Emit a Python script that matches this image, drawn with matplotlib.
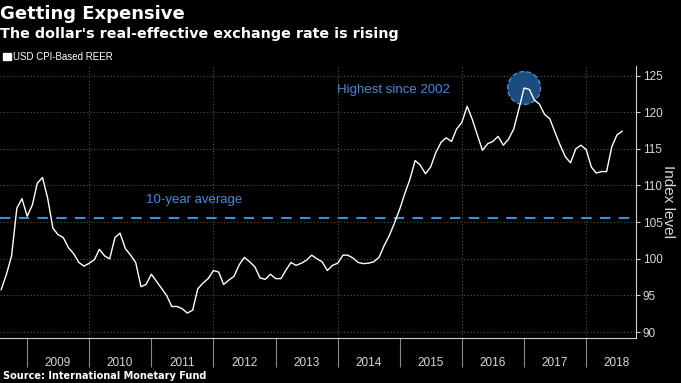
import numpy as np
import pandas as pd
import matplotlib
matplotlib.use('Agg')
import matplotlib.pyplot as plt
from matplotlib.patches import Patch

# monthly USD CPI-based REER, Aug 2008 - Aug 2018
months = pd.date_range('2008-08-01', '2018-08-01', freq='MS')
reer = [95.8, 97.9, 100.4, 106.9, 108.2,
        105.8, 107.4, 110.3, 111.1, 108.3, 104.2, 103.3, 102.9, 101.5, 100.7, 99.5, 99.0,
        99.4, 99.9, 101.3, 100.4, 100.0, 102.9, 103.5, 101.4, 100.5, 99.5, 96.2, 96.5,
        97.9, 96.9, 96.0, 95.0, 93.5, 93.5, 93.2, 92.6, 93.0, 95.9, 96.7, 97.3,
        98.4, 98.2, 96.5, 97.1, 97.6, 99.2, 100.2, 99.6, 98.9, 97.4, 97.2, 97.9,
        97.3, 97.3, 98.4, 99.5, 99.1, 99.4, 99.8, 100.5, 100.0, 99.6, 98.4, 99.1,
        99.4, 100.5, 100.5, 100.1, 99.5, 99.35, 99.4, 99.6, 100.2, 101.8, 103.2, 104.9,
        106.8, 109.0, 110.8, 113.4, 112.8, 111.6, 112.5, 114.5, 115.9, 116.5, 116.0, 117.7,
        118.6, 120.8, 119.1, 116.9, 114.8, 115.7, 116.0, 116.7, 115.5, 116.3, 117.7, 120.4,
        123.3, 123.1, 121.7, 121.1, 119.7, 119.1, 117.3, 115.5, 113.9, 113.1, 115.0, 115.5,
        114.9, 112.5, 111.7, 111.9, 111.9, 115.3, 116.9, 117.4]
avg_10y = 105.6
years = list(range(2009, 2019))
grid_years = [2010, 2012, 2014, 2016, 2018]
yticks = [90, 95, 100, 105, 110, 115, 120, 125]

narrow = ['Liberation Sans Narrow', 'Liberation Sans', 'DejaVu Sans']
blue = '#3a8ee0'
grid_c = '#555555'
lbl_c = '#d8d8d8'

fig = plt.figure(figsize=(6.81, 3.83), dpi=100, facecolor='black')
ax = fig.add_axes([0.0, 0.1175, 0.9339, 0.7102], facecolor='black')

# grid
for y in yticks:
    ax.axhline(y, color=grid_c, lw=0.8, ls=(0, (1, 2)), zorder=1)
for yr in grid_years:
    ax.axvline(pd.Timestamp(yr, 1, 1), color=grid_c, lw=0.8, ls=(0, (1, 2)), zorder=1)

ax.axhline(avg_10y, color=blue, lw=1.5, ls=(0, (5, 4)), zorder=2)
ax.plot(months, reer, color='white', lw=1.0, zorder=3)

# highlight the peak
i = int(np.argmax(reer))
ax.scatter([months[i]], [reer[i]], s=560, facecolor='#1c4c7e', edgecolor=blue,
           linestyle='--', linewidth=1.0, zorder=2.5)

ax.text(pd.Timestamp(2010, 12, 1), 108.05, '10-year average', color=blue,
        fontsize=9.5, family=narrow, va='center', ha='left')
ax.text(pd.Timestamp(2013, 12, 25), 123.0, 'Highest since 2002', color=blue,
        fontsize=9.5, family=narrow, va='center', ha='left')

ax.set_xlim(pd.Timestamp(2008, 7, 25), pd.Timestamp(2018, 10, 21))
ax.set_ylim(89.2, 126.3)

# x axis: year boundaries as long ticks, labels mid-year
ax.set_xticks([pd.Timestamp(y, 1, 1) for y in years])
ax.set_xticklabels([])
ax.set_xticks([pd.Timestamp(y, 7, 1) for y in years], minor=True)
ax.set_xticklabels([str(y) for y in years], minor=True, family=narrow,
                   fontsize=8.5, color=lbl_c)
ax.tick_params(axis='x', which='major', length=21, color='#8a8a8a', width=0.8)
ax.tick_params(axis='x', which='minor', length=0, pad=14)

# y axis on the right
ax.yaxis.tick_right()
ax.yaxis.set_label_position('right')
ax.set_yticks(yticks)
ax.set_yticklabels([str(v) for v in yticks], family=narrow, fontsize=8.5, color=lbl_c)
ax.tick_params(axis='y', which='major', length=3, color='#cfcfcf', width=0.8, pad=2)
ax.set_ylabel('Index level', rotation=270, labelpad=9, color=lbl_c, fontsize=11,
              family=narrow)

for s in ['top', 'left']:
    ax.spines[s].set_visible(False)
ax.spines['right'].set_color('#cfcfcf')
ax.spines['bottom'].set_color('#cfcfcf')

# titles, legend, source
fig.text(0.0, 1 - 19 / 383, 'Getting Expensive', color='white', fontsize=13,
         fontweight='bold', va='baseline', ha='left')
fig.text(0.0, 1 - 38 / 383, "The dollar's real-effective exchange rate is rising",
         color='white', fontsize=10.3, fontweight='bold', va='baseline', ha='left')
leg = fig.legend(handles=[Patch(facecolor='white', edgecolor='white', label='USD CPI-Based REER')],
                 loc='center left', bbox_to_anchor=(0.005, 1 - 57 / 383), frameon=False,
                 handlelength=0.8, handleheight=0.8, handletextpad=0.2, borderaxespad=0,
                 borderpad=0.0, prop={'family': narrow, 'size': 7})
for t in leg.get_texts():
    t.set_color('white')
fig.text(0.005, 1 - 376 / 383, 'Source: International Monetary Fund', color='white',
         fontsize=7, fontweight='bold', va='center', ha='left')

fig.savefig('out.png', dpi=100, facecolor='black')
